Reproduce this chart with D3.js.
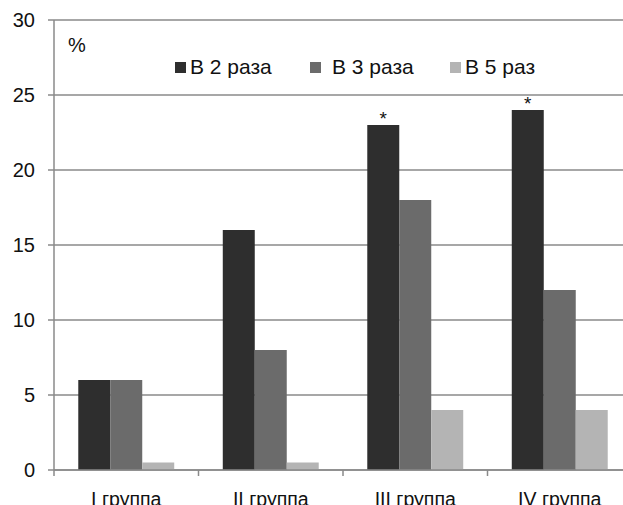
<!DOCTYPE html>
<html>
<head>
<meta charset="utf-8">
<script src="https://cdn.jsdelivr.net/npm/d3@7"></script>
<style>
  body { margin: 0; background: #fff; }
  svg { display: block; font-family: "Liberation Sans", Arial, sans-serif; }
</style>
</head>
<body>
<div id="chart"></div>
<script>
// data
var groups = ["I группа", "II группа", "III группа", "IV группа"];
var seriesNames = ["В 2 раза", "В 3 раза", "В 5 раз"];
var twice = [6, 16, 23, 24];
var thrice = [6, 8, 18, 12];
var fiveTimes = [0.5, 0.5, 4, 4];
var starred = [false, false, true, true]; // asterisk above the "В 2 раза" bar
var yTicks = [0, 5, 10, 15, 20, 25, 30];

var colors = ["#2e2e2e", "#6b6b6b", "#b4b4b4"];
var seriesValues = [twice, thrice, fiveTimes];

var width = 623, height = 505;
var plotLeft = 54, plotRight = 632, plotTop = 20, plotBottom = 470;

var svg = d3.select("#chart").append("svg")
  .attr("width", width)
  .attr("height", height);

var y = d3.scaleLinear().domain([0, 30]).range([plotBottom, plotTop]);

var x0 = d3.scaleBand()
  .domain(groups)
  .range([plotLeft, plotRight])
  .paddingInner(0.336)
  .paddingOuter(0.168);

var x1 = d3.scaleBand()
  .domain(seriesNames)
  .range([0, x0.bandwidth()]);

// gridlines
svg.append("g").selectAll("line")
  .data(yTicks)
  .enter().append("line")
  .attr("x1", plotLeft - 6)
  .attr("x2", width)
  .attr("y1", function(d) { return y(d); })
  .attr("y2", function(d) { return y(d); })
  .attr("stroke", "#8a8a8a")
  .attr("stroke-width", 1.5);

// y labels
svg.append("g").selectAll("text")
  .data(yTicks)
  .enter().append("text")
  .attr("x", 35)
  .attr("y", function(d) { return y(d) + 7; })
  .attr("text-anchor", "end")
  .attr("font-size", 20)
  .attr("fill", "#111")
  .text(function(d) { return d; });

// bars
var rows = groups.map(function(g, i) {
  return seriesNames.map(function(s, j) {
    return { group: g, series: s, value: seriesValues[j][i], color: colors[j] };
  });
});

svg.append("g").selectAll("g")
  .data(rows)
  .enter().append("g")
  .attr("transform", function(d) { return "translate(" + x0(d[0].group) + ",0)"; })
  .selectAll("rect")
  .data(function(d) { return d; })
  .enter().append("rect")
  .attr("x", function(d) { return x1(d.series); })
  .attr("width", x1.bandwidth())
  .attr("y", function(d) { return y(d.value); })
  .attr("height", function(d) { return y(0) - y(d.value); })
  .attr("fill", function(d) { return d.color; });

// asterisks
svg.append("g").selectAll("text")
  .data(groups.filter(function(g, i) { return starred[i]; }))
  .enter().append("text")
  .attr("x", function(d) { return x0(d) + x1(seriesNames[0]) + x1.bandwidth() / 2; })
  .attr("y", function(d) { return y(twice[groups.indexOf(d)]); })
  .attr("text-anchor", "middle")
  .attr("font-size", 19)
  .attr("fill", "#111")
  .text("*");

// axis lines
svg.append("line")
  .attr("x1", plotLeft).attr("x2", plotLeft)
  .attr("y1", plotTop).attr("y2", plotBottom)
  .attr("stroke", "#8a8a8a").attr("stroke-width", 1.5);

svg.append("line")
  .attr("x1", plotLeft).attr("x2", width)
  .attr("y1", plotBottom).attr("y2", plotBottom)
  .attr("stroke", "#8a8a8a").attr("stroke-width", 1.5);

// category ticks (between groups)
var step = x0.step();
svg.append("g").selectAll("line")
  .data(d3.range(groups.length))
  .enter().append("line")
  .attr("x1", function(i) { return plotLeft + i * step; })
  .attr("x2", function(i) { return plotLeft + i * step; })
  .attr("y1", plotBottom)
  .attr("y2", plotBottom + 6)
  .attr("stroke", "#8a8a8a")
  .attr("stroke-width", 1.5);

// category labels
svg.append("g").selectAll("text")
  .data(groups)
  .enter().append("text")
  .attr("x", function(d) { return x0(d) + x0.bandwidth() / 2; })
  .attr("y", 506)
  .attr("text-anchor", "middle")
  .attr("font-size", 19.5)
  .attr("fill", "#111")
  .text(function(d) { return d; });

// unit label
svg.append("text")
  .attr("x", 68)
  .attr("y", 52)
  .attr("font-size", 20)
  .attr("fill", "#111")
  .text("%");

// legend
var legendX = [175, 310, 450];
var legend = svg.append("g").selectAll("g")
  .data(seriesNames)
  .enter().append("g")
  .attr("transform", function(d, i) { return "translate(" + legendX[i] + ",62)"; });

legend.append("rect")
  .attr("width", 11)
  .attr("height", 11)
  .attr("fill", function(d, i) { return colors[i]; });

legend.append("text")
  .attr("x", function(d, i) { return i === 1 ? 22 : 15; })
  .attr("y", 12)
  .attr("font-size", 21)
  .attr("fill", "#111")
  .text(function(d) { return d; });
</script>
</body>
</html>
